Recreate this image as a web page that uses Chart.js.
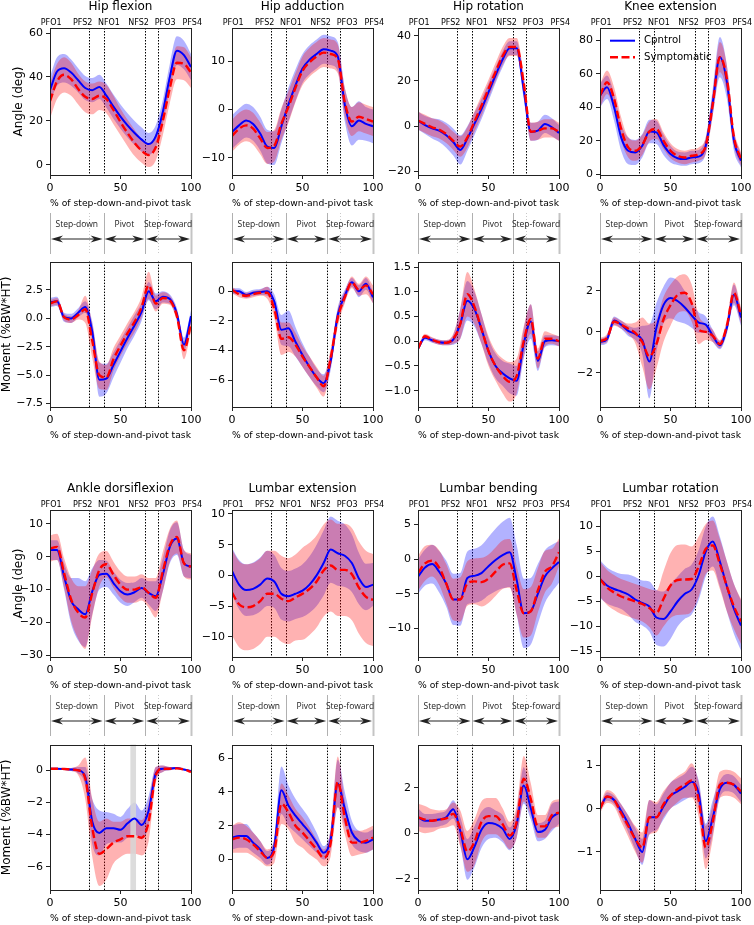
<!DOCTYPE html>
<html>
<head>
<meta charset="utf-8">
<script src="https://cdn.jsdelivr.net/npm/chart.js@4.4.1/dist/chart.umd.min.js"></script>
<style>
html, body { margin: 0; padding: 0; background: #fff; overflow: hidden; }
#fig { position: relative; width: 754px; height: 925px; }
#fig canvas { position: absolute; }
</style>
</head>
<body>
<div id="fig"></div>
<script>
// % of task, sampled every 5 %
const pct = [0, 5, 10, 15, 20, 25, 30, 35, 40, 45, 50, 55, 60, 65, 70, 75, 80, 85, 90, 95, 100];

const eventNames = ['PFO1', 'PFS2', 'NFO1', 'NFS2', 'PFO3', 'PFS4'];
const eventPct = [0, 28, 38, 67.5, 76.5, 100];
const phaseNames = ['Step-down', 'Pivot', 'Step-foward'];
const phaseBounds = [0, 38, 67.5, 100];
const legendLabels = ['Cpntrol', 'Symptomatic'];
const ankleMomentSpan = [57, 61];
const xTicks = [0, 50, 100];

// ---- angles, top block ----
const hipFlexC = [34, 42.5, 44, 42, 38.5, 35, 34, 35.5, 31.5, 26.5, 22, 18, 14.5, 11.5, 9.5, 13, 24, 40, 52, 50, 44.5];
const hipFlexCsd = [6, 6.5, 6.5, 6, 5.5, 5.5, 5.5, 5.5, 5.5, 5.5, 5.5, 5.5, 5.5, 5.5, 5, 5, 5.5, 6, 6.5, 6.5, 6];
const hipFlexS = [29, 38, 41, 39, 34.5, 31, 30, 31.5, 30, 25, 19.5, 14.5, 10, 6.5, 4.5, 8, 20, 35, 46.5, 46, 42];
const hipFlexSsd = [8, 8, 8, 7.5, 7, 7, 7, 6.5, 6.5, 6.5, 6, 6, 6, 5.5, 5.5, 6, 6.5, 7, 7.5, 7.5, 7];
const hipFlexTicks = [0, 20, 40, 60];

const hipAddC = [-4.7, -3.3, -2.3, -3, -5, -7.7, -8, -3.5, 1, 5, 8.5, 10.3, 11.5, 12.5, 12.2, 11, 1, -3.5, -2.3, -3, -3.5];
const hipAddCsd = [3.5, 3.5, 3.5, 3.5, 3.5, 3.5, 3.5, 3.5, 3.5, 3.3, 3, 3, 3, 3, 3, 3, 3.5, 4, 4, 3.5, 3.5];
const hipAddS = [-5.5, -4, -3.3, -4, -6, -8, -7.5, -3, 0.5, 4.5, 8, 9.8, 11, 11.8, 11.5, 10.5, 1.5, -2.5, -1.5, -2, -2.5];
const hipAddSsd = [3.3, 3.3, 3.3, 3.3, 3.3, 3.3, 3.3, 3.3, 3.3, 3, 3, 3, 3, 3, 3, 3, 3, 3, 3, 3, 3];
const hipAddTicks = [-10, 0, 10];

const hipRotC = [2.5, 0.5, -1, -2, -4, -7, -10.5, -5.5, 1, 7.5, 15, 22.5, 29.5, 34.5, 34.5, 16, -2.5, -2, 1, -0.5, -3];
const hipRotCsd = [4, 4, 4.5, 5, 5.5, 6, 6.5, 5.5, 5, 4.5, 4, 3.5, 3.5, 3, 3, 4, 4, 4, 4, 4, 3.5];
const hipRotS = [2.5, 1, -0.5, -1.5, -3.5, -6.5, -9, -5, 2, 9, 16.5, 24, 31, 35, 35, 19, -2.5, -2, -1, -1, -2.5];
const hipRotSsd = [4, 4, 4, 4, 4, 4, 4.5, 4.5, 4.5, 4.5, 4, 4, 4, 4, 4, 4, 4, 4, 4, 4, 4];
const hipRotTicks = [-20, 0, 20, 40];

const kneeC = [47, 52, 40, 22, 14, 13, 17, 25.5, 25, 17.5, 12, 9.5, 9, 10, 10.5, 17, 43, 70, 55, 20, 8];
const kneeCsd = [7, 7, 8, 8, 8, 7.5, 7, 7, 7, 6, 5, 4, 4, 4, 4, 5, 8, 12, 10, 6, 4];
const kneeS = [47, 55, 45, 27, 16, 14, 17.5, 25.5, 27, 20, 14, 11, 10, 11, 12, 17, 42, 70, 57, 22, 9];
const kneeSsd = [7, 7, 7, 7, 6, 6, 6, 6, 6, 5, 4.5, 4, 4, 4, 4, 5, 7, 9, 8, 5, 4];
const kneeTicks = [0, 20, 40, 60, 80];

// ---- moments, top block ----
const hipFlexMC = [1.4, 1.5, 0.1, 0.0, 0.5, 1.0, -1.2, -5.4, -5.3, -4.1, -2.9, -1.7, -0.6, 0.6, 2.4, 1.5, 1.9, 1.7, 0.4, -2.3, 0.2];
const hipFlexMCsd = [0.4, 0.4, 0.4, 0.4, 0.4, 0.5, 0.9, 1.5, 1.3, 1.1, 1.0, 0.9, 0.9, 0.8, 0.8, 0.7, 0.5, 0.4, 0.5, 0.6, 0.5];
const hipFlexMS = [1.3, 1.5, 0.1, -0.1, 0.3, 0.8, -2.0, -5.0, -5.2, -3.6, -2.4, -1.3, -0.3, 1.0, 2.9, 1.3, 1.8, 1.6, 0.2, -2.8, -0.5];
const hipFlexMSsd = [0.3, 0.3, 0.3, 0.3, 0.4, 1.2, 1.5, 1.2, 1.1, 1.0, 0.9, 0.9, 0.9, 0.9, 1.2, 0.7, 0.5, 0.4, 0.5, 0.8, 0.6];
const hipFlexMTicks = [-7.5, -5, -2.5, 0, 2.5];

const hipAddMC = [0, 0, -0.25, -0.1, -0.05, 0, -0.7, -2.6, -2.5, -3.4, -4.3, -5.1, -5.8, -6.2, -4.7, -1.6, -0.3, 0.6, 0.0, 0.5, -0.4];
const hipAddMCsd = [0.2, 0.2, 0.2, 0.2, 0.2, 0.3, 0.5, 1.0, 1.2, 1.0, 0.8, 0.7, 0.6, 0.6, 0.6, 0.5, 0.4, 0.3, 0.4, 0.4, 0.4];
const hipAddMS = [0.1, -0.2, -0.3, -0.2, -0.1, -0.1, -1.2, -3.2, -3.1, -3.6, -4.4, -5.1, -5.8, -6.4, -4.5, -1.8, -0.4, 0.6, 0.1, 0.4, -0.2];
const hipAddMSsd = [0.2, 0.2, 0.2, 0.2, 0.2, 0.4, 0.6, 1.1, 1.0, 0.8, 0.7, 0.7, 0.7, 0.7, 0.6, 0.6, 0.4, 0.4, 0.4, 0.6, 0.6];
const hipAddMTicks = [-6, -4, -2, 0];

const hipRotMC = [-0.15, 0.07, 0.02, -0.02, -0.03, 0.03, 0.35, 0.82, 0.65, 0.25, -0.2, -0.5, -0.65, -0.75, -0.8, -0.05, 0.4, -0.4, 0.0, 0.02, 0.0];
const hipRotMCsd = [0.05, 0.05, 0.05, 0.05, 0.05, 0.1, 0.3, 0.4, 0.35, 0.3, 0.25, 0.25, 0.25, 0.3, 0.3, 0.3, 0.35, 0.2, 0.12, 0.1, 0.1];
const hipRotMS = [-0.15, 0.1, 0.03, -0.02, -0.03, 0.05, 0.35, 0.95, 0.7, 0.25, -0.2, -0.5, -0.7, -0.82, -0.7, 0.0, 0.45, -0.35, 0.05, 0.05, 0.0];
const hipRotMSsd = [0.05, 0.05, 0.05, 0.05, 0.05, 0.1, 0.3, 0.45, 0.35, 0.3, 0.3, 0.3, 0.35, 0.4, 0.35, 0.3, 0.3, 0.2, 0.15, 0.1, 0.1];
const hipRotMTicks = [-1, -0.5, 0, 0.5, 1, 1.5];

const kneeMC = [-0.5, -0.35, 0.55, 0.35, 0.05, -0.1, -0.4, -1.45, 0.2, 1.3, 1.65, 1.5, 1.2, 0.8, 0.45, 0.35, -0.2, -0.65, 0.2, 1.8, 0.7];
const kneeMCsd = [0.15, 0.2, 0.2, 0.2, 0.25, 0.3, 0.7, 1.8, 1.2, 0.9, 1.0, 1.0, 0.8, 0.6, 0.5, 0.4, 0.3, 0.2, 0.3, 0.5, 0.4];
const kneeMS = [-0.45, -0.3, 0.5, 0.35, 0.15, -0.05, -0.5, -1.2, -0.6, 0.6, 1.3, 1.8, 1.9, 1.4, 0.1, 0.0, -0.2, -0.6, 0.3, 1.9, 0.8];
const kneeMSsd = [0.15, 0.2, 0.2, 0.2, 0.25, 0.5, 1.2, 1.6, 1.2, 1.1, 1.0, 0.9, 0.9, 0.9, 0.7, 0.4, 0.3, 0.2, 0.3, 0.5, 0.4];
const kneeMTicks = [-2, 0, 2];

// ---- angles, bottom block ----
const ankleC = [2, 2, -6, -13.5, -16, -17.5, -10.5, -5.5, -5.2, -8, -10.5, -11.5, -10.8, -9.5, -11, -12, -5.5, 3, 5.5, -2, -3];
const ankleCsd = [3, 3, 4, 7, 9.5, 10, 7, 4.5, 4, 3.5, 3.5, 3.5, 3, 3, 3.5, 4.5, 5, 5, 5, 4, 3.5];
const ankleS = [2.5, 3, -5, -13, -17, -18.5, -11, -4, -2.3, -5.5, -8.5, -10, -10, -9.3, -11, -12.5, -4.5, 3.5, 6, -2, -3];
const ankleSsd = [4, 4, 4.5, 6.5, 8, 9.5, 7, 5, 4, 4, 4, 4, 4, 4, 4.5, 6, 6, 5, 5, 4, 4];
const ankleTicks = [-30, -20, -10, 0, 10];

const lumExtC = [0.7, -1.5, -2.4, -2.2, -1.5, -0.5, -1.0, -3.0, -3.4, -3.0, -2.5, -1.5, 0, 2, 4.2, 3.6, 3.2, 2, -0.5, -1.9, -1.5];
const lumExtCsd = [3.8, 4, 4.2, 4.3, 4.4, 4.5, 4.3, 4.2, 4.1, 4.1, 4.3, 4.6, 5, 5.3, 5.4, 5.3, 5.1, 4.7, 4.2, 3.8, 3.5];
const lumExtS = [-2.8, -4.7, -5.2, -5, -4.2, -3, -3.0, -3.8, -4.2, -3.6, -3.0, -2.2, -1.0, 0.8, 1.6, 0.9, 0.9, 0.2, -2, -3.5, -4];
const lumExtSsd = [7, 7, 7, 7, 7, 7, 7, 7, 7, 7, 7.5, 7.5, 7.5, 7.5, 7.5, 7.5, 7.5, 7.5, 7.5, 7.5, 7.5];
const lumExtTicks = [-10, -5, 0, 5, 10];

const lumBendC = [-2.5, -1.2, -0.7, -1.8, -3.5, -5.8, -5.8, -2.7, -2.4, -2.0, -1.0, -0.1, 0.6, 1.0, -3.0, -7.8, -7.5, -5, -2.5, -1.3, -0.4];
const lumBendCsd = [2.5, 2.6, 2.8, 3, 3.3, 3.7, 3.8, 3.8, 3.9, 4, 4.2, 4.5, 4.8, 5, 5, 5, 4.8, 4.3, 3.8, 3.4, 3];
const lumBendS = [-2, -0.6, -0.2, -1.2, -3.5, -5.8, -5.8, -3.5, -3.2, -3.3, -2.8, -1.8, -0.8, -0.6, -4.5, -7.8, -7.5, -4.5, -1.8, -1, 1.0];
const lumBendSsd = [2.5, 2.5, 2.3, 2.5, 2.8, 3, 3.2, 3.2, 3.3, 3.5, 3.5, 3.5, 3.5, 3.5, 3.5, 3.5, 3.5, 3.2, 3, 2.5, 2];
const lumBendTicks = [-10, -5, 0, 5];

const lumRotC = [-0.5, -1.8, -2.5, -3.0, -3.6, -4.6, -5.3, -6.0, -8.2, -8.5, -7.0, -5.0, -3.5, -2.6, 0.3, 5.0, 7.0, 3.0, -2.0, -6.5, -9.8];
const lumRotCsd = [3.8, 3.6, 3.5, 3.5, 4, 4.5, 4.5, 5, 5.5, 5.5, 5.5, 5, 5, 5, 5, 5, 5, 5, 5, 5, 5];
const lumRotS = [-0.5, -2.2, -3.2, -4.0, -4.5, -5.0, -5.5, -6.3, -7.3, -4.5, -1.8, -0.7, -0.6, -0.5, 2.0, 5.5, 6.2, 2.5, -2.0, -6.0, -9.0];
const lumRotSsd = [3.5, 3.5, 3.5, 3.5, 3.5, 3.5, 3.5, 3.8, 4.5, 5.5, 6.5, 7, 7, 6.5, 6, 5, 5, 5, 5, 4.5, 4.5];
const lumRotTicks = [-15, -10, -5, 0, 5, 10];

// ---- moments, bottom block ----
const ankleMC = [0.1, 0.1, 0.08, 0.05, 0.0, -0.4, -3.2, -3.9, -3.6, -3.6, -3.7, -3.3, -3.0, -3.4, -2.5, -0.2, 0.1, 0.1, 0.15, 0.05, -0.05];
const ankleMCsd = [0.05, 0.05, 0.05, 0.1, 0.2, 0.6, 1.4, 1.4, 1.0, 0.9, 0.8, 0.9, 1.0, 0.9, 0.9, 0.4, 0.2, 0.1, 0.05, 0.05, 0.05];
const ankleMS = [0.1, 0.1, 0.08, 0.05, 0.0, -0.5, -3.6, -5.2, -4.9, -4.5, -4.3, -4.1, -4.1, -4.2, -3.2, -0.3, 0.1, 0.1, 0.12, 0.05, -0.1];
const ankleMSsd = [0.05, 0.05, 0.05, 0.1, 0.3, 1.3, 1.8, 2.0, 1.9, 1.3, 1.1, 1.1, 1.1, 1.1, 1.2, 0.5, 0.2, 0.1, 0.05, 0.05, 0.05];
const ankleMTicks = [-6, -4, -2, 0];

const lumExtMC = [1.3, 1.4, 1.4, 1.0, 0.6, 0.1, 0.8, 4.1, 3.2, 2.6, 2.1, 1.6, 1.0, 0.4, 1.2, 4.5, 3.0, 1.6, 1.1, 1.0, 1.2];
const lumExtMCsd = [0.7, 0.7, 0.7, 0.6, 0.5, 0.4, 0.5, 1.4, 1.2, 1.0, 0.9, 0.8, 0.6, 0.4, 0.6, 1.4, 1.0, 0.7, 0.6, 0.6, 0.6];
const lumExtMS = [1.2, 1.3, 1.2, 0.9, 0.5, 0.1, 0.5, 3.3, 2.8, 2.0, 1.6, 1.1, 0.6, 0.1, 1.0, 4.6, 2.5, 1.0, 1.0, 1.1, 1.3];
const lumExtMSsd = [0.8, 0.9, 0.8, 0.7, 0.6, 0.5, 0.7, 1.2, 1.0, 1.0, 0.9, 0.8, 0.6, 0.5, 0.8, 1.5, 1.0, 0.8, 0.7, 0.7, 0.7];
const lumExtMTicks = [0, 2, 4, 6];

const lumBendMC = [0.7, 0.55, 0.55, 0.6, 0.7, 1.05, 0.1, -1.15, -0.6, 0.15, 0.45, 0.4, 0.2, -0.25, 0.4, 2.1, 1.1, 0.05, 0.15, 0.7, 0.9];
const lumBendMCsd = [0.4, 0.3, 0.3, 0.3, 0.3, 0.4, 0.6, 0.9, 0.9, 0.8, 0.7, 0.6, 0.6, 0.5, 0.6, 0.8, 0.5, 0.4, 0.4, 0.6, 0.5];
const lumBendMS = [0.7, 0.6, 0.55, 0.6, 0.65, 0.85, 0.2, -0.8, -0.4, 0.5, 0.75, 0.75, 0.4, -0.1, 0.5, 2.4, 1.5, 0.3, 0.3, 0.8, 0.9];
const lumBendMSsd = [0.6, 0.6, 0.5, 0.4, 0.4, 0.5, 0.8, 0.9, 1.0, 0.9, 0.8, 0.8, 0.7, 0.6, 0.7, 1.0, 0.7, 0.5, 0.5, 0.6, 0.6];
const lumBendMTicks = [-2, 0, 2];

const lumRotMC = [0.0, 0.28, 0.2, -0.05, -0.35, -0.7, -1.0, -0.2, -0.2, 0.05, 0.3, 0.4, 0.5, 0.62, 0.35, -0.75, -0.2, 0.45, 0.6, 0.55, 0.35];
const lumRotMCsd = [0.05, 0.1, 0.1, 0.15, 0.2, 0.25, 0.3, 0.4, 0.3, 0.3, 0.3, 0.3, 0.3, 0.35, 0.3, 0.4, 0.4, 0.2, 0.2, 0.2, 0.2];
const lumRotMS = [0.0, 0.28, 0.2, -0.1, -0.4, -0.7, -0.9, -0.2, -0.2, 0.1, 0.3, 0.45, 0.55, 0.65, 0.2, -0.9, -0.3, 0.55, 0.6, 0.55, 0.4];
const lumRotMSsd = [0.1, 0.15, 0.15, 0.2, 0.25, 0.3, 0.35, 0.4, 0.35, 0.3, 0.3, 0.3, 0.3, 0.4, 0.4, 0.5, 0.4, 0.3, 0.3, 0.3, 0.3];
const lumRotMTicks = [-1, 0, 1];

// panel list, row by row
const panels = [
  {title: 'Hip flexion', c: hipFlexC, cs: hipFlexCsd, s: hipFlexS, ss: hipFlexSsd, ticks: hipFlexTicks, min: -4.6, max: 62.3, dec: 0},
  {title: 'Hip adduction', c: hipAddC, cs: hipAddCsd, s: hipAddS, ss: hipAddSsd, ticks: hipAddTicks, min: -13.6, max: 16.9, dec: 0},
  {title: 'Hip rotation', c: hipRotC, cs: hipRotCsd, s: hipRotS, ss: hipRotSsd, ticks: hipRotTicks, min: -21.6, max: 43.4, dec: 0},
  {title: 'Knee extension', c: kneeC, cs: kneeCsd, s: kneeS, ss: kneeSsd, ticks: kneeTicks, min: -0.5, max: 87.4, dec: 0, legend: true},
  {c: hipFlexMC, cs: hipFlexMCsd, s: hipFlexMS, ss: hipFlexMSsd, ticks: hipFlexMTicks, min: -7.8, max: 5.0, dec: 1},
  {c: hipAddMC, cs: hipAddMCsd, s: hipAddMS, ss: hipAddMSsd, ticks: hipAddMTicks, min: -7.8, max: 2.0, dec: 0},
  {c: hipRotMC, cs: hipRotMCsd, s: hipRotMS, ss: hipRotMSsd, ticks: hipRotMTicks, min: -1.33, max: 1.61, dec: 1},
  {c: kneeMC, cs: kneeMCsd, s: kneeMS, ss: kneeMSsd, ticks: kneeMTicks, min: -3.66, max: 3.42, dec: 0},
  {title: 'Ankle dorsiflexion', c: ankleC, cs: ankleCsd, s: ankleS, ss: ankleSsd, ticks: ankleTicks, min: -30.5, max: 14.2, dec: 0},
  {title: 'Lumbar extension', c: lumExtC, cs: lumExtCsd, s: lumExtS, ss: lumExtSsd, ticks: lumExtTicks, min: -13.3, max: 10.65, dec: 0},
  {title: 'Lumbar bending', c: lumBendC, cs: lumBendCsd, s: lumBendS, ss: lumBendSsd, ticks: lumBendTicks, min: -14.1, max: 7.1, dec: 0},
  {title: 'Lumbar rotation', c: lumRotC, cs: lumRotCsd, s: lumRotS, ss: lumRotSsd, ticks: lumRotTicks, min: -16.1, max: 13.3, dec: 0},
  {c: ankleMC, cs: ankleMCsd, s: ankleMS, ss: ankleMSsd, ticks: ankleMTicks, min: -7.45, max: 1.6, dec: 0, span: ankleMomentSpan},
  {c: lumExtMC, cs: lumExtMCsd, s: lumExtMS, ss: lumExtMSsd, ticks: lumExtMTicks, min: -1.8, max: 6.8, dec: 0},
  {c: lumBendMC, cs: lumBendMCsd, s: lumBendMS, ss: lumBendMSsd, ticks: lumBendMTicks, min: -2.5, max: 3.9, dec: 0},
  {c: lumRotMC, cs: lumRotMCsd, s: lumRotMS, ss: lumRotMSsd, ticks: lumRotMTicks, min: -1.88, max: 1.48, dec: 0}
];

// layout
const colLeft = [50, 232, 418, 600];
const rowTop = [28, 260, 510, 743];
const plotW = 143, plotH = 147;
const eventLabelPct = [0.8, 23.2, 41.8, 62.8, 81.7, 100.9];
const FONT = '"DejaVu Sans", sans-serif';
const BLUE = '#0000ff', RED = '#ff0000';

const pts = arr => pct.map((p, i) => ({x: p, y: arr[i]}));
const band = (m, sd, k) => pct.map((p, i) => ({x: p, y: m[i] + k * sd[i]}));
const fmt = (v, d) => (v < 0 ? '\u2212' : '') + Math.abs(v).toFixed(d);

function arrowHead(ctx, tx, y, dir) {
  const L = 12, hw = 3.6;
  ctx.beginPath();
  ctx.moveTo(tx, y);
  ctx.lineTo(tx - dir * L, y - hw);
  ctx.lineTo(tx - dir * L * 0.7, y);
  ctx.lineTo(tx - dir * L, y + hw);
  ctx.closePath();
  ctx.fill();
}

const decor = {
  id: 'decor',
  beforeDatasetsDraw(chart) {
    const {ctx, chartArea: a, scales: {x}} = chart;
    ctx.save();
    ctx.strokeStyle = '#000';
    ctx.lineWidth = 1;
    ctx.setLineDash([1.5, 1.5]);
    eventPct.slice(1, 5).forEach(v => {
      const px = Math.round(x.getPixelForValue(v)) + 0.5;
      ctx.beginPath(); ctx.moveTo(px, a.top); ctx.lineTo(px, a.bottom); ctx.stroke();
    });
    ctx.restore();
  },
  afterDatasetDraw(chart, args, opts) {
    if (!opts.span || args.index !== 2) return;
    const {ctx, chartArea: a, scales: {x}} = chart;
    const x0 = x.getPixelForValue(opts.span[0]), x1 = x.getPixelForValue(opts.span[1]);
    ctx.save();
    ctx.fillStyle = 'rgba(214,214,214,0.85)';
    ctx.fillRect(x0, a.top, x1 - x0, a.bottom - a.top);
    ctx.restore();
  },
  afterDraw(chart, args, opts) {
    const {ctx, chartArea: a, scales: {x}} = chart;
    const px = v => x.getPixelForValue(v);
    ctx.save();
    ctx.strokeStyle = '#222';
    ctx.lineWidth = 1;
    ctx.strokeRect(Math.round(a.left) + 0.5, Math.round(a.top) + 0.5, Math.round(a.right - a.left), Math.round(a.bottom - a.top));

    if (opts.events) {
      ctx.fillStyle = '#000';
      ctx.font = '8px ' + FONT;
      ctx.textAlign = 'center';
      ctx.textBaseline = 'bottom';
      eventNames.forEach((n, i) => ctx.fillText(n, px(eventLabelPct[i]), a.top - 1.5));
    }

    if (opts.phases) {
      const yT = a.bottom + 38, yB = a.bottom + 79, yL = a.bottom + 50, yA = a.bottom + 64;
      phaseBounds.forEach((v, i) => {
        const last = i === phaseBounds.length - 1;
        ctx.strokeStyle = last ? '#c4c4c4' : '#b0b0b0';
        ctx.lineWidth = last ? 2 : 1;
        const p = Math.round(px(v)) + 0.5;
        ctx.beginPath(); ctx.moveTo(p, yT); ctx.lineTo(p, yB); ctx.stroke();
      });
      ctx.strokeStyle = '#c8c8c8';
      ctx.lineWidth = 1;
      ctx.setLineDash([1, 2]);
      [eventPct[1], eventPct[4]].forEach(v => {
        const p = Math.round(px(v)) + 0.5;
        ctx.beginPath(); ctx.moveTo(p, yT); ctx.lineTo(p, yB); ctx.stroke();
      });
      ctx.setLineDash([]);
      ctx.fillStyle = '#222';
      ctx.font = '8.5px "Open Sans", sans-serif';
      ctx.textAlign = 'center';
      ctx.textBaseline = 'middle';
      phaseNames.forEach((n, i) => ctx.fillText(n, (px(phaseBounds[i]) + px(phaseBounds[i + 1])) / 2, yL));
      ctx.strokeStyle = '#222';
      ctx.fillStyle = '#222';
      ctx.lineWidth = 1.2;
      for (let i = 0; i < phaseNames.length; i++) {
        const x0 = px(phaseBounds[i]) + 1, x1 = px(phaseBounds[i + 1]) - 1;
        ctx.beginPath(); ctx.moveTo(x0 + 6, yA); ctx.lineTo(x1 - 6, yA); ctx.stroke();
        arrowHead(ctx, x0, yA, -1);
        arrowHead(ctx, x1, yA, 1);
      }
    }

    if (opts.legend) {
      ctx.font = '10.2px ' + FONT;
      ctx.textAlign = 'left';
      ctx.textBaseline = 'middle';
      [1, 0].forEach((di, row) => {
        const ds = chart.data.datasets[di];
        const y = a.top + 12.7 + row * 16.6;
        ctx.strokeStyle = ds.borderColor;
        ctx.lineWidth = ds.borderWidth;
        ctx.setLineDash(ds.borderDash || []);
        ctx.beginPath(); ctx.moveTo(a.left + 10, y); ctx.lineTo(a.left + 35, y); ctx.stroke();
        ctx.fillStyle = '#000';
        ctx.fillText(ds.label, a.left + 44, y);
      });
    }
    ctx.restore();
  }
};

const fig = document.getElementById('fig');

panels.forEach((p, idx) => {
  const col = idx % 4, row = Math.floor(idx / 4);
  const isAngle = row % 2 === 0;
  const padTop = isAngle ? 28 : 8;
  const padBottom = isAngle ? 50 : 0;
  const W = 50 + plotW + 11, H = padTop + plotH + 34 + padBottom;
  const cv = document.createElement('canvas');
  cv.width = W; cv.height = H;
  cv.style.width = W + 'px'; cv.style.height = H + 'px';
  cv.style.left = (colLeft[col] - 50) + 'px';
  cv.style.top = (rowTop[row] - padTop) + 'px';
  fig.appendChild(cv);

  new Chart(cv, {
    type: 'line',
    data: {
      datasets: [
        {label: legendLabels[1], data: pts(p.s), borderColor: RED, borderWidth: 2.4, borderDash: [8, 3.5], fill: false},
        {label: legendLabels[0], data: pts(p.c), borderColor: BLUE, borderWidth: 2, fill: false},
        {data: band(p.s, p.ss, 1), borderColor: 'rgba(0,0,0,0)', borderWidth: 0, backgroundColor: 'rgba(255,0,0,0.3)', fill: '+1'},
        {data: band(p.s, p.ss, -1), borderColor: 'rgba(0,0,0,0)', borderWidth: 0, fill: false},
        {data: band(p.c, p.cs, 1), borderColor: 'rgba(0,0,0,0)', borderWidth: 0, backgroundColor: 'rgba(0,0,255,0.3)', fill: '+1'},
        {data: band(p.c, p.cs, -1), borderColor: 'rgba(0,0,0,0)', borderWidth: 0, fill: false}
      ]
    },
    options: {
      responsive: false,
      animation: false,
      events: [],
      layout: {padding: {top: isAngle ? 0 : 8, bottom: padBottom, left: 0, right: 11}, autoPadding: false},
      elements: {point: {radius: 0}, line: {cubicInterpolationMode: 'monotone'}},
      scales: {
        x: {
          type: 'linear', min: 0, max: 100,
          afterBuildTicks: s => { s.ticks = xTicks.map(v => ({value: v})); },
          afterFit: s => { s.height = 34; },
          grid: {display: true, drawOnChartArea: false, drawTicks: true, tickLength: 4, color: '#222'},
          border: {display: false},
          ticks: {font: {family: FONT, size: 11}, color: '#000', padding: 2.5, maxRotation: 0},
          title: {display: true, text: '% of step-down-and-pivot task', font: {family: FONT, size: 9.3}, color: '#000', padding: {top: 0, bottom: 0}}
        },
        y: {
          min: p.min, max: p.max,
          afterBuildTicks: s => { s.ticks = p.ticks.map(v => ({value: v})); },
          afterFit: s => { s.width = 50; },
          grid: {display: true, drawOnChartArea: false, drawTicks: true, tickLength: 4, color: '#222'},
          border: {display: false},
          ticks: {font: {family: FONT, size: 11}, color: '#000', padding: 3, callback: v => fmt(v, p.dec)},
          title: {display: col === 0, text: isAngle ? 'Angle (deg)' : 'Moment (%BW*HT)', font: {family: FONT, size: 12}, color: '#000', padding: {top: isAngle ? 11.8 : 0, bottom: 0}}
        }
      },
      plugins: {
        legend: {display: false},
        tooltip: {enabled: false},
        title: {display: isAngle, text: p.title || '', fullSize: false, font: {family: FONT, size: 12, weight: 'normal'}, color: '#000', padding: {top: 0, bottom: 13.6}},
        decor: {events: isAngle, phases: isAngle, legend: !!p.legend, span: p.span || null}
      }
    },
    plugins: [decor]
  });
});
</script>
</body>
</html>
